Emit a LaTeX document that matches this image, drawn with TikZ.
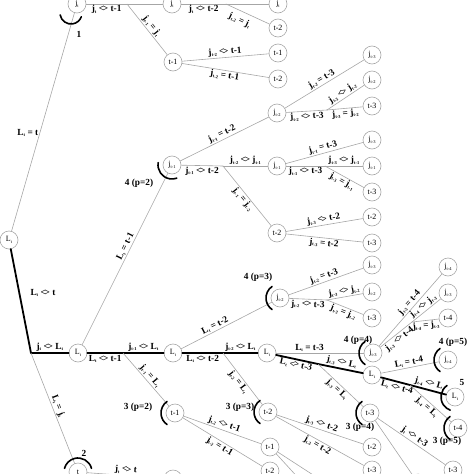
\documentclass[tikz,border=0pt]{standalone}
\usepackage{fontspec}
\setmainfont{Liberation Serif}
\newcommand{\sub}[1]{\raisebox{-.35ex}{\fontsize{4.5}{5}\selectfont #1}}
\newcommand{\nq}{\mbox{<\kern-.12em>}}
\newcommand{\J}[1]{j\sub{#1}}
\newcommand{\Lt}{L\sub{t}}
\begin{document}
\begin{tikzpicture}[x=1pt, y=-1pt, line join=round, line cap=round,
		font=\fontsize{9.3}{10}\selectfont\bfseries,
		nd/.style={circle, draw=gray!70, line width=.6pt, fill=white, minimum size=18pt, inner sep=0pt, font=\fontsize{8}{8}\selectfont},
		ln/.style={gray!70, line width=.6pt},
		bl/.style={black, line width=1.8pt},
		lb/.style={sloped, inner sep=1pt, text=black},
		hk/.style={line width=1.6pt}]
		\useasboundingbox (0,0) rectangle (474,474);
		\clip (0,0) rectangle (474,474);
		%\draw[gray!30] (0,0) grid[step=50] (474,474);
		\foreach \n/\x/\y/\txt in {jA/77/4/\J{t}, jB/172/4/\J{t}, tA/173/62/t-1, jC/278/4/\J{t}, tB/278/28/t-2, tC/278/53/t-1, tD/278/79/t-2,
			LA/9/240/\Lt, jD/172/165/\J{t-1}, jE/277/113/\J{t-2}, jF/372/55/\J{t-3}, jG/372/80/\J{t-2}, tE/372/106/t-3,
			jH/277/166/\J{t-1}, jI/372/140/\J{t-3}, jJ/372/166/\J{t-1}, tF/372/192/t-3, tG/277/233/t-2, tH/372/217/t-2, tI/372/243/t-3,
			LB/78/353/\Lt, LC/173/353/\Lt, jK/280/298/\J{t-2}, jL/372/265/\J{t-3}, jM/372/292/\J{t-2}, tJ/372/318/t-3,
			LD/267/353/\Lt, tK/175/413/t-1, tL/268/412/t-2, jN/373/353/\J{t-3}, LE/372/375/\Lt, tM/370/413/t-3,
			jO/448/267/\J{t-4}, jP/448/293/\J{t-3}, tN/448/318/t-4, jQ/448/360/\J{t-4}, LF/455/397/\Lt, tO/458/428/t-4,
			tP/78/472/t, tQ/270/447/t-1, tR/270/471/t-2, tS/372/447/t-2, tT/372/470/t-3, tU/453/470/t-3, pX/173/479/, pY/418/483/}
			\node[nd] (\n) at (\x,\y) {\txt};
		\foreach \n/\x/\y in {bA/127/4, bB/226/4, bLA/31/353, bLB/123/353, bD/223/166, bE/327/110, bH/325/166,
			bLC/223/353, bK/327/300, bLD/318/364, bN/412/322, bLE/410/385, eA/302/482, eB/324/482}
			\coordinate (\n) at (\x,\y);
		% upper part
		\draw[ln] (jA) -- (bA) node[lb, midway, below]{\J{t} \nq{} t-1};
		\draw[ln] (bA) -- (jB);
		\draw[ln] (bA) -- (tA) node[lb, midway, above]{\J{t-1} = \J{t}};
		\draw[ln] (jB) -- (bB) node[lb, midway, below]{\J{t} \nq{} t-2};
		\draw[ln] (bB) -- (jC);
		\draw[ln] (bB) -- (tB) node[lb, pos=.4, below=4pt]{\J{t-2} = \J{t}};
		\draw[ln] (tA) -- (tC) node[lb, midway, above]{\J{t-2} \nq{} t-1};
		\draw[ln] (tA) -- (tD) node[lb, midway, below]{\J{t-2} = t-1};
		\draw[ln] (LA) -- (jA) node[pos=.45, left=-2pt, text=black]{\Lt{} = t};
		\draw[ln] (LB) -- (jD) node[lb, pos=.56, above]{\Lt{} = t-1};
		\draw[ln] (jD) -- (jE) node[lb, midway, above]{\J{t-1} = t-2};
		\draw[ln] (jD) -- (bD) node[lb, midway, below]{\J{t-1} \nq{} t-2};
		\draw[ln] (bD) -- (jH) node[lb, midway, above]{\J{t-2} \nq{} \J{t-1}};
		\draw[ln] (bD) -- (tG) node[lb, midway, below]{\J{t-1} = \J{t-2}};
		\draw[ln] (jE) -- (jF) node[lb, midway, above]{\J{t-2} = t-3};
		\draw[ln] (jE) -- (bE) node[lb, midway, below]{\J{t-2} \nq{} t-3};
		\draw[ln] (bE) -- (jG) node[lb, midway, above]{\J{t-3} \nq{} \J{t-2}};
		\draw[ln] (bE) -- (tE) node[lb, midway, below]{\J{t-3} = \J{t-2}};
		\draw[ln] (jH) -- (jI) node[lb, midway, above]{\J{t-1} = t-3};
		\draw[ln] (jH) -- (bH) node[lb, midway, below]{\J{t-1} \nq{} t-3};
		\draw[ln] (bH) -- (jJ) node[lb, midway, above]{\J{t-3} \nq{} \J{t-1}};
		\draw[ln] (bH) -- (tF) node[lb, midway, below]{\J{t-3} = \J{t-1}};
		\draw[ln] (tG) -- (tH) node[lb, midway, above]{\J{t-3} \nq{} t-2};
		\draw[ln] (tG) -- (tI) node[lb, midway, below]{\J{t-3} = t-2};
		% main path
		\draw[bl] (LA) -- (bLA) node[pos=.42, right=7pt]{\Lt{} \nq{} t};
		\draw[bl] (bLA) -- (LB) node[lb, midway, above]{\J{t} \nq{} \Lt};
		\draw[bl] (LB) -- (bLB) node[lb, midway, below]{\Lt{} \nq{} t-1};
		\draw[bl] (bLB) -- (LC) node[lb, midway, above]{\J{t-1} \nq{} \Lt};
		\draw[bl] (LC) -- (bLC) node[lb, midway, below]{\Lt{} \nq{} t-2};
		\draw[bl] (bLC) -- (LD) node[lb, midway, above]{\J{t-2} \nq{} \Lt};
		\draw[bl] (LD) -- (bLD) node[lb, midway, below]{\Lt{} \nq{} t-3};
		\draw[bl] (bLD) -- (LE) node[lb, midway, above]{\J{t-3} \nq{} \Lt};
		\draw[bl] (LE) -- (bLE) node[lb, pos=.6, below]{\Lt{} \nq{} t-4};
		\draw[bl] (bLE) -- (LF) node[lb, midway, above]{\J{t-4} \nq{} \Lt};
		% lower part
		\draw[ln] (bLA) -- (tP) node[lb, midway, above]{\Lt{} = \J{t}};
		\draw[ln] (bLB) -- (tK) node[lb, midway, above]{\J{t-1} = \Lt};
		\draw[ln] (LC) -- (jK) node[lb, pos=.4, above]{\Lt{} = t-2};
		\draw[ln] (bLC) -- (tL) node[lb, midway, below]{\J{t-2} = \Lt};
		\draw[ln] (jK) -- (jL) node[lb, midway, above]{\J{t-2} = t-3};
		\draw[ln] (jK) -- (bK) node[lb, midway, below]{\J{t-2} \nq{} t-3};
		\draw[ln] (bK) -- (jM) node[lb, midway, above]{\J{t-3} \nq{} \J{t-2}};
		\draw[ln] (bK) -- (tJ) node[lb, midway, below]{\J{t-3} = \J{t-2}};
		\draw[ln] (LD) -- (jN) node[lb, pos=.38, above]{\Lt{} = t-3};
		\draw[ln] (bLD) -- (tM) node[lb, midway, below]{\J{t-3} = \Lt};
		\draw[ln] (jN) -- (jO) node[lb, pos=.55, above]{\J{t-3} = t-4};
		\draw[ln] (jN) -- (bN) node[lb, midway, below]{\J{t-3} \nq{} t-4};
		\draw[ln] (bN) -- (jP) node[lb, midway, above]{\J{t-4} \nq{} \J{t-3}};
		\draw[ln] (bN) -- (tN) node[lb, midway, below]{\J{t-4} = \J{t-3}};
		\draw[ln] (LE) -- (jQ) node[lb, midway, above]{\Lt{} = t-4};
		\draw[ln] (bLE) -- (tO) node[lb, midway, below]{\J{t-4} = \Lt};
		\draw[ln] (tK) -- (tQ) node[lb, midway, above]{\J{t-2} \nq{} t-1};
		\draw[ln] (tK) -- (tR) node[lb, midway, below]{\J{t-2} = t-1};
		\draw[ln] (tL) -- (tS) node[lb, midway, above]{\J{t-3} \nq{} t-2};
		\draw[ln] (tL) -- (tT) node[lb, midway, below]{\J{t-3} = t-2};
		\draw[ln] (tM) -- (tU) node[lb, midway, above]{\J{t} \nq{} t-3};
		\draw[ln] (tM) -- (pY);
		\draw[ln] (tP) -- (pX) node[lb, midway, above]{\J{t} \nq{} t};
		\draw[ln] (tQ) -- (eA);
		\draw[ln] (tQ) -- (eB);
		% hooks and their counts
		\foreach \n/\a/\b in {tK/125/235, tL/125/235, tM/125/235, tO/125/235, jK/125/235, jN/125/235, jQ/125/235, LF/125/250, jD/170/290, tP/15/165}
			\draw[hk] (\n.center) ++(\a:14pt) arc[start angle=\a, end angle=\b, radius=14pt];
		\draw[hk] (71,13) ++(190:11pt) arc[start angle=190, end angle=340, radius=11pt];
		\node (kA) at (79,34) {1};
		\node (kB) at (84,453) {2};
		\node (kC) at (139,183) {4 (p=2)};
		\node (kD) at (258,277) {4 (p=3)};
		\node (kE) at (358,340) {4 (p=4)};
		\node (kF) at (453,342) {4 (p=5)};
		\node (kG) at (462,382) {5};
		\node (kH) at (447,441) {3 (p=5)};
		\node (kI) at (360,427) {3 (p=4)};
		\node (kJ) at (240,407) {3 (p=3)};
		\node (kK) at (138,407) {3 (p=2)};
	\end{tikzpicture}
\end{document}
